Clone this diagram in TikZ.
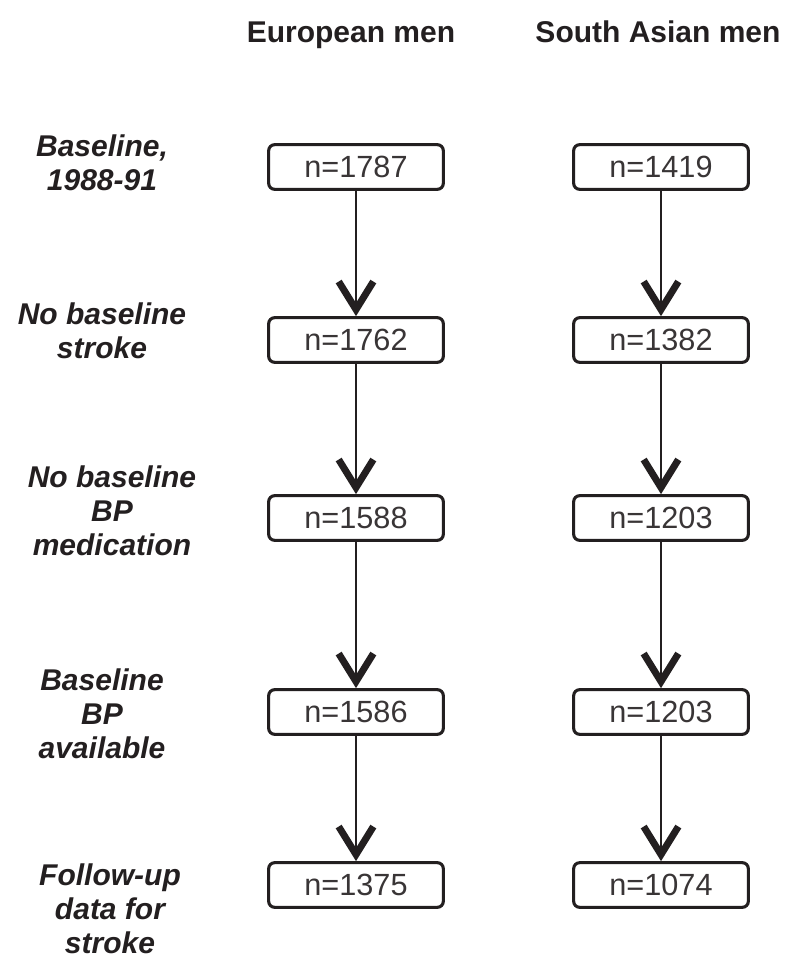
\documentclass[tikz,border=0pt]{standalone}
\usepackage{fontspec}
\setmainfont{Liberation Sans}
\usetikzlibrary{arrows.meta}
\definecolor{ink}{HTML}{231F20}
\tikzset{
  numbox/.style={draw=ink, line width=2.3pt, rounded corners=4.5pt, minimum width=131pt, minimum height=33.5pt, inner sep=0pt, text=ink!90, font=\fontsize{23}{26}\selectfont},
  conn/.style={draw=ink, line width=1.6pt, -{Straight Barb[length=21pt, width=26pt, line width=5.2pt]}},
  rowlabel/.style={align=center, text=ink, inner sep=0pt, font=\fontsize{22.5}{25.5}\selectfont\bfseries\itshape},
  header/.style={text=ink, inner sep=0pt, anchor=base, font=\fontsize{22.5}{26}\selectfont\bfseries}
}
\begin{document}
\begin{tikzpicture}[x=0.75pt, y=-0.75pt]
\useasboundingbox (0,0) rectangle (800,966);
\fill[white] (0,0) rectangle (800,966);
% headers
\node[header] (hE) at (351,43) {European men};
\node[header] (hS) at (658,43) {South Asian men};
% row labels
\node[rowlabel] (l1) at (102,163) {Baseline,\\1988-91};
\node[rowlabel] (l2) at (102,331) {No baseline\\stroke};
\node[rowlabel] (l3) at (112,511) {No baseline\\BP\\medication};
\node[rowlabel] (l4) at (102,714) {Baseline\\BP\\available};
\node[rowlabel] (l5) at (110,909) {Follow-up\\data for\\stroke};
% European column
\node[numbox] (e1) at (356,167) {n=1787};
\node[numbox] (e2) at (356,340) {n=1762};
\node[numbox] (e3) at (356,518) {n=1588};
\node[numbox] (e4) at (356,712) {n=1586};
\node[numbox] (e5) at (356,885) {n=1375};
% South Asian column
\node[numbox] (s1) at (661,167) {n=1419};
\node[numbox] (s2) at (661,340) {n=1382};
\node[numbox] (s3) at (661,518) {n=1203};
\node[numbox] (s4) at (661,712) {n=1203};
\node[numbox] (s5) at (661,885) {n=1074};
% connectors
\draw[conn] (e1) -- (e2);
\draw[conn] (e2) -- (e3);
\draw[conn] (e3) -- (e4);
\draw[conn] (e4) -- (e5);
\draw[conn] (s1) -- (s2);
\draw[conn] (s2) -- (s3);
\draw[conn] (s3) -- (s4);
\draw[conn] (s4) -- (s5);
\end{tikzpicture}
\end{document}
